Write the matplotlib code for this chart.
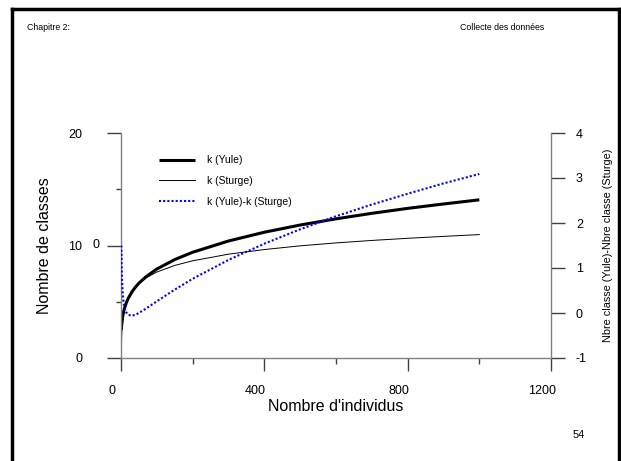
import matplotlib
matplotlib.use("Agg")
import matplotlib.pyplot as plt
from matplotlib.lines import Line2D
from matplotlib.transforms import ScaledTranslation

plt.rcParams['font.family'] = ['Liberation Sans', 'DejaVu Sans']
plt.rcParams['axes.unicode_minus'] = False

# sample sizes and number of classes
n = [1, 2, 3, 5, 7, 10, 15, 20, 30, 40, 50, 70, 100, 150, 200,
     300, 400, 500, 600, 700, 800, 900, 1000]
k_yule = [2.50, 2.97, 3.29, 3.74, 4.07, 4.45, 4.92, 5.29, 5.85, 6.29, 6.65,
          7.23, 7.91, 8.75, 9.40, 10.40, 11.18, 11.82, 12.37, 12.86, 13.30,
          13.69, 14.06]
k_sturge = [1.00, 2.00, 2.59, 3.32, 3.81, 4.32, 4.91, 5.32, 5.91, 6.32, 6.64,
            7.13, 7.64, 8.23, 8.64, 9.23, 9.64, 9.97, 10.23, 10.45, 10.64,
            10.81, 10.97]
k_diff = [1.50, 0.97, 0.71, 0.42, 0.26, 0.12, 0.01, -0.04, -0.06, -0.04, 0.00,
          0.10, 0.26, 0.52, 0.76, 1.18, 1.54, 1.86, 2.15, 2.41, 2.65, 2.88,
          3.09]

x_ticks = [0, 400, 800, 1200]
y_ticks = [0, 10, 20]
y2_ticks = [-1, 0, 1, 2, 3, 4]

W, H = 621, 461
fig = plt.figure(figsize=(W / 100, H / 100), dpi=100)

# page frame
fw = 2.5
fig.add_artist(Line2D([12 / W, 12 / W], [0, 1 - 9 / H], color='black', lw=fw))
fig.add_artist(Line2D([12 / W, 619 / W], [1 - 9 / H, 1 - 9 / H], color='black', lw=fw))
fig.add_artist(Line2D([619 / W, 619 / W], [0, 1 - 9 / H], color='black', lw=fw))

fig.text(27 / W, 1 - 28 / H, 'Chapitre 2:', fontsize=6.3, va='center', ha='left')
fig.text(544 / W, 1 - 28 / H, 'Collecte des données', fontsize=6.3, va='center', ha='right')
fig.text(579 / W, 1 - 435 / H, '54', fontsize=8, va='center', ha='center')

ax = fig.add_axes([121 / W, 1 - 358 / H, 430 / W, 225 / H])
ax2 = ax.twinx()

axis_col = '#808080'
tick_col = '#404040'

l1, = ax.plot(n, k_yule, color='black', lw=2.2, solid_capstyle='butt', label='k (Yule)')
l2, = ax.plot(n, k_sturge, color='black', lw=0.7, label='k (Sturge)')
l3, = ax2.plot(n, k_diff, color='#0000ff', lw=1.5, ls=(0, (1, 1)), label='k (Yule)-k (Sturge)')

ax.set_xlim(0, 1200)
ax.set_ylim(0, 20)
ax2.set_ylim(-1, 4)

ax.set_xticks(x_ticks)
ax.set_xticks([200, 600, 1000], minor=True)
ax.set_yticks(y_ticks)
ax.set_yticks([5, 15], minor=True)
ax2.set_yticks(y2_ticks)

for a in (ax, ax2):
    a.spines['top'].set_visible(False)
    for s in a.spines.values():
        s.set_color(axis_col)
        s.set_linewidth(1.0)
ax.spines['right'].set_visible(False)
ax2.spines['left'].set_visible(False)
ax2.spines['bottom'].set_visible(False)

ax.tick_params(axis='y', which='major', direction='out', length=10, width=1,
               color=tick_col, pad=18, labelsize=9)
ax.tick_params(axis='y', which='minor', direction='out', length=3.8, width=1,
               color=tick_col)
ax.tick_params(axis='x', which='major', direction='out', length=9.5, width=1,
               color=tick_col, pad=10, labelsize=9)
ax.tick_params(axis='x', which='minor', direction='out', length=4, width=1,
               color=tick_col)
ax2.tick_params(axis='y', which='major', direction='out', length=10, width=1,
                color=tick_col, pad=8, labelsize=9)

# x tick labels sit slightly left of their ticks
shift = ScaledTranslation(-9 / 100, 0, fig.dpi_scale_trans)
for lab in ax.get_xticklabels():
    lab.set_transform(lab.get_transform() + shift)

fig.text(96 / W, 1 - 245 / H, '0', fontsize=9, va='center', ha='center')

ax.set_xlabel("Nombre d'individus", fontsize=11.5, labelpad=0)
ax.xaxis.set_label_coords(0.5, -0.182)
ax.set_ylabel('Nombre de classes', fontsize=11.5)
ax.yaxis.set_label_coords(-0.16, 0.5)
ax2.set_ylabel('Nbre classe (Yule)-Nbre classe (Sturge)', fontsize=7.8)
ax2.yaxis.set_label_coords(1.121, 0.5)

ax.legend(handles=[l1, l2, l3], loc='upper left', bbox_to_anchor=(0.079, 0.92),
          frameon=False, fontsize=7.5, handlelength=3.46, handletextpad=1.15,
          labelspacing=1.05, borderaxespad=0)

fig.savefig('out.png', dpi=100)
